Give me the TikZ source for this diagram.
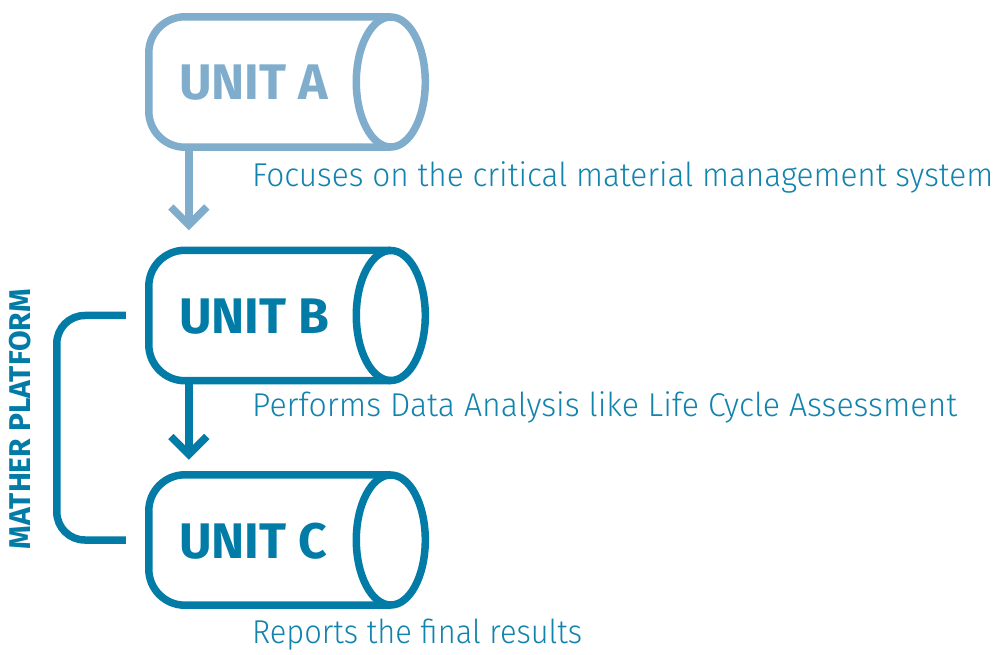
\documentclass[tikz,border=0pt]{standalone}
\usepackage{fontspec}
\setmainfont{Fira Sans}
\newfontfamily\lightfont{Fira Sans}[UprightFont={* Light}]
\usetikzlibrary{arrows.meta}
\definecolor{unitlight}{RGB}{127,173,203}
\definecolor{unitdark}{RGB}{2,124,166}
\definecolor{desctext}{RGB}{18,131,173}
\tikzset{
  drum/.style={rectangle, inner sep=0pt, minimum width=276.5pt, minimum height=130pt},
  drumline/.style={line width=7.5pt},
  unitlabel/.style={anchor=base west, inner sep=0pt, font=\fontsize{50}{56}\bfseries\selectfont},
  desc/.style={anchor=base west, inner sep=0pt, text=desctext, font=\fontsize{33}{40}\lightfont},
  flow/.style={line width=7.5pt, -{Straight Barb[length=18pt, width=36pt]}, shorten >=20pt},
}
% horizontal drum outline: rounded back end, elliptic front face
\newcommand\drumoutline[2]{%
  \draw[drumline, #2, rounded corners=36pt]
    ([xshift=242pt]#1.north west) -- (#1.north west) -- (#1.south west) -- ([xshift=242pt]#1.south west);
  \draw[drumline, #2] ([xshift=242pt]#1.west) ellipse [x radius=34.5pt, y radius=65pt];
}
% description line set to a fixed width
\newcommand\fitline[2]{\resizebox{#1}{\height}{#2}}
\begin{document}
\begin{tikzpicture}[x=1pt, y=-1pt]
\useasboundingbox (0,0) rectangle (997,655);

\node[drum] (cylA) at (287.25,82) {};
\node[drum] (cylB) at (287.25,315.5) {};
\node[drum] (cylC) at (287.25,540) {};

\drumoutline{cylA}{unitlight}
\drumoutline{cylB}{unitdark}
\drumoutline{cylC}{unitdark}

\node[unitlabel, text=unitlight] (labA) at (179,100) {UNIT A};
\node[unitlabel, text=unitdark] (labB) at (179,334) {UNIT B};
\node[unitlabel, text=unitdark] (labC) at (179,558) {UNIT C};

\node[desc] (descA) at (252,187) {\fitline{741pt}{Focuses on the critical material management system}};
\node[desc] (descB) at (252,416) {\fitline{705pt}{Performs Data Analysis like Life Cycle Assessment}};
\node[desc] (descC) at (252,643) {\fitline{330pt}{Reports the final results}};

\draw[flow, unitlight] ([xshift=40pt]cylA.south west) -- ([xshift=40pt]cylB.north west);
\draw[flow, unitdark, shorten >=15pt] ([xshift=40pt]cylB.south west) -- ([xshift=40pt]cylC.north west);

% bracket joining units B and C
\draw[drumline, unitdark, rounded corners=28pt]
  ([xshift=-23pt]cylB.west) -- ++(-69,0) |- ([xshift=-23pt]cylC.west);

\node[rotate=90, text=unitdark, inner sep=0pt, font=\fontsize{30}{34}\bfseries\selectfont]
  (platform) at (20,419) {MATHER PLATFORM};
\end{tikzpicture}
\end{document}
